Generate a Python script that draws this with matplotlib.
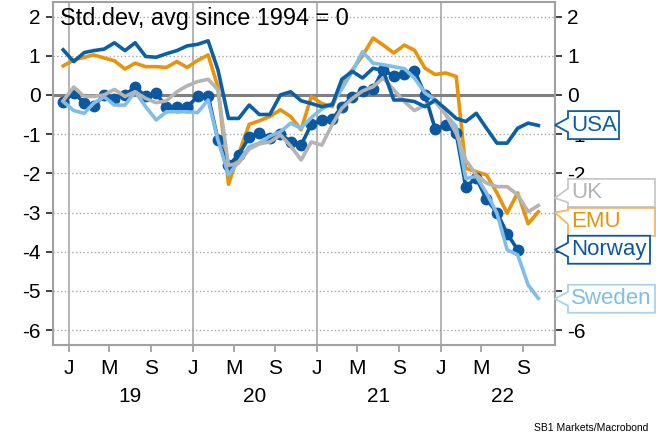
#!/usr/bin/env python3
# -*- coding: utf-8 -*-
"""Consumer confidence, std.dev from avg since 1994 (USA, EMU, UK, Norway, Sweden)."""
import matplotlib
matplotlib.use("Agg")
import matplotlib.pyplot as plt
import matplotlib.dates as mdates
from matplotlib.patches import Polygon
import numpy as np
import pandas as pd

plt.rcParams["font.family"] = ["Liberation Sans", "DejaVu Sans"]
plt.rcParams["axes.unicode_minus"] = False

# monthly, Dec 2018 .. Oct 2022 (Norway to Aug 2022)
start = "2018-12-01"
usa = [1.15, 0.85, 1.08, 1.13, 1.17, 1.33, 1.13, 1.33, 0.98, 0.96, 1.05, 1.13, 1.25,
       1.29, 1.38, 0.64, -0.60, -0.60, -0.26, -0.50, -0.50, 0.00, 0.08, -0.15, -0.22,
       -0.30, -0.25, 0.40, 0.60, 0.43, 0.68, 0.62, -0.13, -0.13, -0.17, -0.30, -0.13,
       -0.36, -0.60, -0.68, -0.47, -0.85, -1.23, -1.23, -0.85, -0.72, -0.78]
emu = [0.74, 0.89, 0.96, 1.02, 0.94, 0.87, 0.66, 0.81, 0.72, 0.72, 0.70, 0.85, 0.70,
       0.88, 1.02, 0.20, -2.28, -1.50, -0.75, -0.66, -0.55, -0.38, -0.55, -0.89, -0.04,
       -0.22, -0.30, 0.32, 0.64, 1.00, 1.45, 1.27, 1.07, 1.27, 1.14, 0.68, 0.52,
       0.56, 0.47, -1.87, -1.96, -2.04, -2.50, -3.02, -2.50, -3.29, -2.98]
uk = [-0.15, 0.20, -0.04, -0.04, 0.00, 0.14, -0.04, 0.08, -0.09, -0.20, -0.15, 0.08, 0.23,
      0.34, 0.40, 0.13, -1.80, -1.74, -1.38, -1.25, -1.20, -1.02, -1.30, -1.66, -1.20,
      -1.28, -0.75, -0.34, -0.09, 0.10, 0.21, 0.43, 0.13, -0.17, -0.40, -0.26, -0.17,
      -0.50, -0.98, -1.66, -2.04, -2.25, -2.34, -2.34, -2.55, -2.98, -2.82]
sweden = [-0.17, -0.40, -0.47, -0.21, -0.05, -0.26, -0.26, 0.08, -0.30, -0.64, -0.43, -0.43, -0.43,
          -0.45, -0.13, -1.15, -2.04, -1.70, -1.32, -1.23, -1.05, -0.94, -0.72, -0.85, -0.58,
          -0.36, -0.21, 0.15, 0.60, 1.10, 0.81, 0.77, 0.72, 0.67, 0.43, 0.05, -0.12,
          -0.50, -0.81, -2.13, -2.08, -2.50, -3.02, -3.95, -4.08, -4.85, -5.19]
norway = [-0.17, 0.05, -0.20, -0.28, 0.00, -0.10, 0.00, 0.20, -0.04, 0.04, -0.31, -0.31, -0.31,
          -0.04, -0.02, -1.15, -1.80, -1.53, -1.08, -0.96, -1.10, -1.00, -1.19, -1.28, -0.75,
          -0.65, -0.62, -0.30, -0.05, 0.10, 0.15, 0.64, 0.48, 0.53, 0.62, 0.00, -0.87,
          -0.77, -0.98, -2.34, -2.12, -2.66, -3.00, -3.54, -3.95]

C_USA = "#0b5fa5"
C_NOR = "#0a58a0"
C_EMU = "#e8940a"
C_UK = "#b4b4b4"
C_SWE = "#80bde8"

# callout labels: name, colour, edge colour, tip value, box centre value, box right (px)
labels = [
    ("USA", C_USA, C_USA, -0.77, -0.77, 619),
    ("UK", C_UK, "#c8c8c8", -2.63, -2.50, 655),
    ("EMU", C_EMU, "#f0b860", -3.00, -3.24, 655),
    ("Norway", C_NOR, C_NOR, -3.95, -3.95, 650),
    ("Sweden", C_SWE, "#a8d2f0", -5.20, -5.20, 655),
]


def mid_month(n):
    return pd.date_range(start, periods=n, freq="MS") + pd.Timedelta(days=15)


W, H = 656, 440
fig = plt.figure(figsize=(W / 100, H / 100), dpi=100)
L, R, T, B = 53, 555, 2, 345
ax = fig.add_axes([L / W, 1 - B / H, (R - L) / W, (B - T) / H])

ax.set_xlim(pd.Timestamp("2018-11-16"), pd.Timestamp("2022-12-04"))
ax.set_ylim(-6.38, 2.37)

# grid
for v in range(-6, 3):
    if v == 0:
        continue
    ax.axhline(v, color="#a8a8a8", lw=1.0, ls=(0, (1, 1.7)), zorder=1)
for yr in [2019, 2020, 2021, 2022]:
    ax.axvline(pd.Timestamp(f"{yr}-01-01"), color="#a0a0a0", lw=1.1, zorder=1)
ax.axhline(0, color="#808080", lw=2.2, zorder=2)

lw = 2.6
ax.plot(mid_month(len(emu)), emu, color=C_EMU, lw=lw, zorder=3)
ax.plot(mid_month(len(norway)), norway, color=C_NOR, lw=lw, marker="o", ms=7.5, zorder=4)
ax.plot(mid_month(len(sweden)), sweden, color=C_SWE, lw=lw, zorder=5)
ax.plot(mid_month(len(uk)), uk, color=C_UK, lw=lw, zorder=5)
ax.plot(mid_month(len(usa)), usa, color=C_USA, lw=lw, zorder=6)

for s in ax.spines.values():
    s.set_color("#a0a0a0")
    s.set_linewidth(1.5)

ax.set_yticks(range(-6, 3))
ax.tick_params(axis="y", which="both", left=True, right=True, labelleft=True,
               labelright=True, direction="out", length=5, width=1.3,
               color="#333333", pad=4, labelsize=15)
ax.xaxis.set_major_locator(mdates.MonthLocator(bymonth=[1, 5, 9]))
ax.xaxis.set_major_formatter(mdates.DateFormatter("%b"))
ax.tick_params(axis="x", direction="out", length=5, width=1.1, color="#909090",
               pad=5, labelsize=15)
fig.canvas.draw()
ax.set_xticklabels([t.get_text()[0] for t in ax.get_xticklabels()])

for yr in [2019, 2020, 2021, 2022]:
    ax.text(pd.Timestamp(f"{yr}-07-01"), -0.149, str(yr)[2:], transform=ax.get_xaxis_transform(),
            ha="center", va="center", fontsize=15)

ax.text(0.014, 0.953, "Std.dev, avg since 1994 = 0", transform=ax.transAxes,
        ha="left", va="center", fontsize=16.9)

# callout boxes to the right of the plot
def to_px(v):
    return ax.transData.transform((ax.get_xlim()[1], v))[1]

bx = 568
for name, col, edge, tip_v, mid_v, right in labels:
    ty, my = to_px(tip_v), to_px(mid_v)
    top, bot = my + 14, my - 14
    ny = min(max((ty + my) / 2, bot + 8), top - 8)
    pts = [(bx, top), (right, top), (right, bot), (bx, bot), (bx, ny - 7), (R, ty), (bx, ny + 7)]
    pts = [(x / W, y / H) for x, y in pts]
    fig.add_artist(Polygon(pts, closed=True, facecolor="white", edgecolor=edge, lw=1.3,
                           transform=fig.transFigure, zorder=5))
    fig.text((bx + 3) / W, my / H, name, color=col, fontsize=16, ha="left", va="center",
             zorder=6)

fig.text(648 / W, 1 - 428 / H, "SB1 Markets/Macrobond", ha="right", va="center", fontsize=7.5)

fig.savefig("out.png", dpi=100)
